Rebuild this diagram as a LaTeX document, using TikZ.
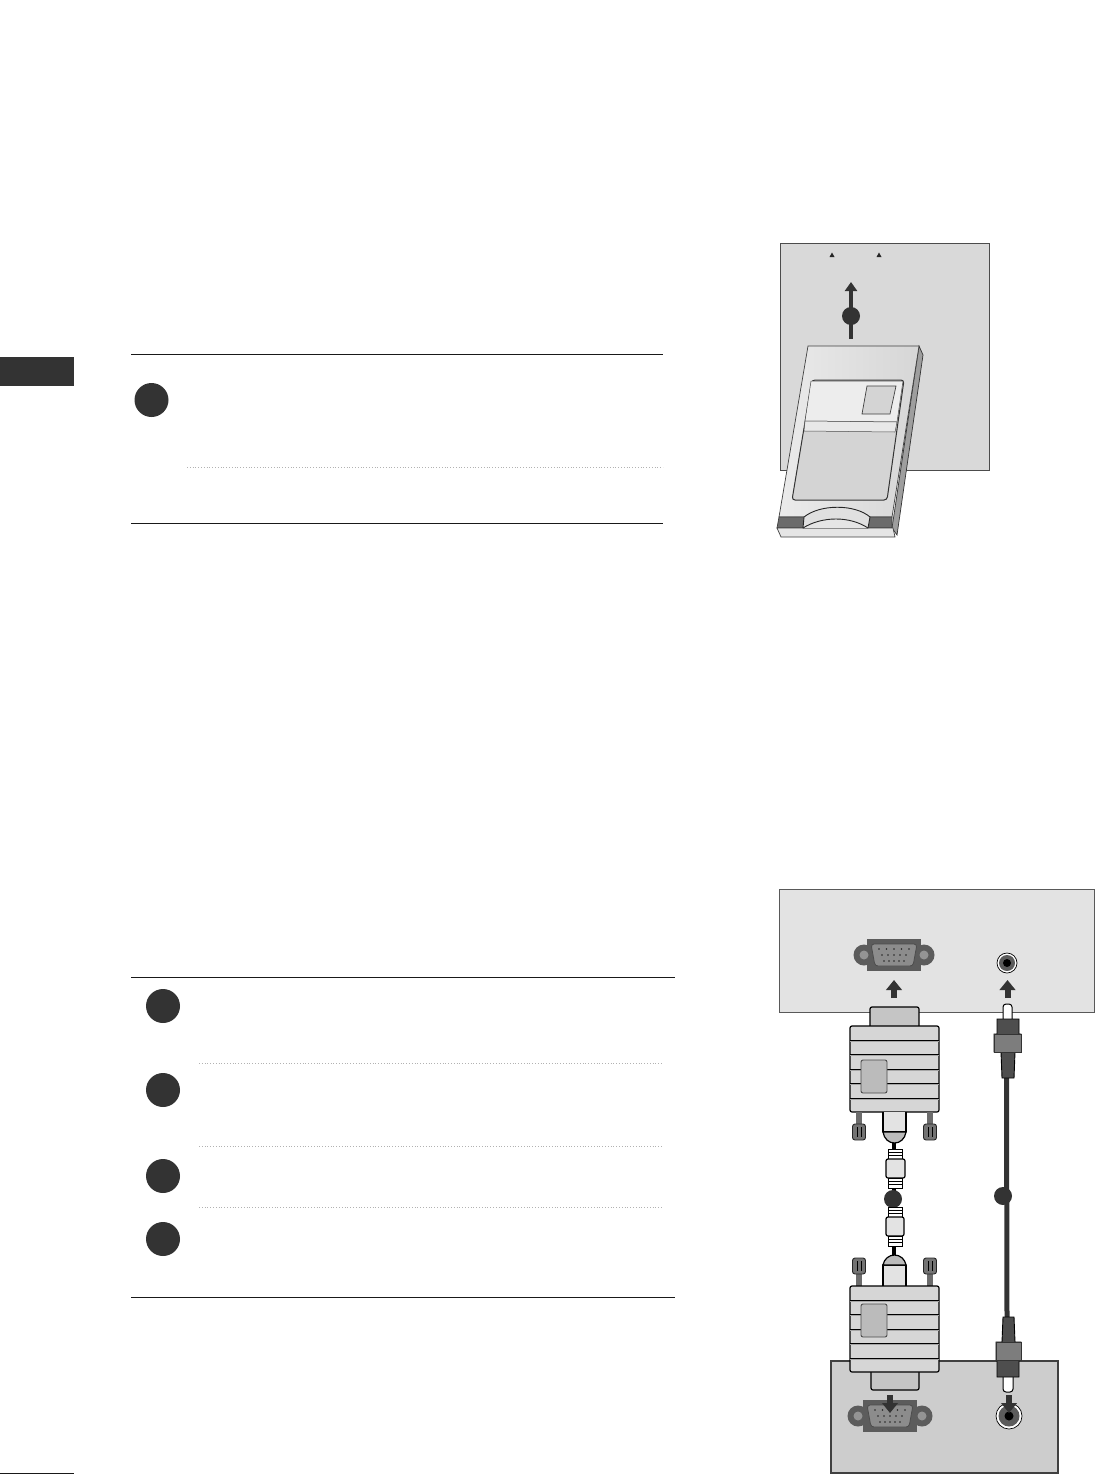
\documentclass[tikz,border=0pt]{standalone}
\usetikzlibrary{arrows.meta}
\definecolor{inkdark}{HTML}{333333}
\definecolor{plugmid}{HTML}{5C5C5C}
\definecolor{platelight}{HTML}{E3E3E3}
\definecolor{platecard}{HTML}{D9D9D9}
\definecolor{platelow}{HTML}{CDCDCD}
\definecolor{bodygray}{HTML}{D6D6D6}
\definecolor{tabgray}{HTML}{BBBBBB}
\tikzset{
  rule/.style={line width=1pt, color=black!90},
  softrule/.style={line width=0.8pt, dotted, color=black!30},
  stepdot/.style={circle, fill=inkdark, inner sep=0pt, minimum size=34pt},
  marker/.style={circle, fill=inkdark, inner sep=0pt, minimum size=18pt},
  bigarrow/.style={line width=6pt, color=inkdark, -{Triangle[width=15.5pt,length=10pt]}},
  cable/.style={line width=5pt, color=inkdark},
  outline/.style={draw=black, line width=1.2pt, line join=round},
  pics/plugbody/.style={code={
    \draw[outline, fill=bodygray, rounded corners=2pt] (0,0) rectangle (89,86);
    \foreach \ly in {14,28,43,57,72} {
      \draw[line width=1pt] (0,\ly) -- (89,\ly);
      \draw[line width=1pt, color=black!35] (0,\ly+1.5) -- (89,\ly+1.5);
    }
    \draw[line width=0.9pt, color=black!70, fill=tabgray, rounded corners=2pt] (11,#1) rectangle (37,#1+33);
  }},
  pics/screw/.style={code={
    \fill[plugmid!90] (-3,#1*12) rectangle (3,0);
    \draw[line width=0.9pt, draw=black!85, fill=black!55, rounded corners=2.5pt] (-6.5,#1*12) rectangle (6.5,#1*28);
    \foreach \sx in {-2,2} \draw[line width=0.7pt] (\sx,#1*15) -- (\sx,#1*25);
  }},
  pics/ribs/.style={code={
    \fill[white] (-7,0) rectangle (7,10);
    \draw[line width=0.9pt] (-7,0) rectangle (7,10);
    \foreach \ry in {3.3,6.6} \draw[line width=0.9pt] (-7,\ry) -- (7,\ry);
  }},
  pics/vgaport/.style={code={
    \fill[plugmid] (-27,-16) rectangle (27,16);
    \fill[plugmid] (-#1,0) circle (10.5);
    \fill[plugmid] (#1,0) circle (10.5);
    \fill[black!42] (-#1,0) circle (4.5);
    \fill[black!42] (#1,0) circle (4.5);
    \draw[line width=0.8pt, draw=black!70, fill=black!45, rounded corners=3pt] (-23,-11) -- (23,-11) -- (19,11) -- (-19,11) -- cycle;
    \foreach \pz/\pa/\pb in {-6/-15/15, 0/-12/12, 6/-10/10}
      \foreach \pk in {0,1,2,3,4}
        \fill[black!85] ({\pa+(\pb-\pa)*\pk/4},\pz) circle (0.8);
  }}
}
\begin{document}
\begin{tikzpicture}[x=1pt,y=-1pt]
\useasboundingbox (0,0) rectangle (1095,1475);
% side tab and foot line
\fill[inkdark] (0,357) rectangle (74,386);
\draw[rule] (0,1473) -- (74,1473);
% upper text block
\draw[rule] (131,354) -- (663,354);
\draw[rule] (131,523) -- (663,523);
\draw[softrule] (187,467) -- (663,467);
\node[stepdot] (stepa) at (151.5,400) {};
% lower text block
\draw[rule] (131,977) -- (675,977);
\draw[rule] (131,1297) -- (675,1297);
\draw[softrule] (199,1063) -- (663,1063);
\draw[softrule] (199,1146) -- (663,1146);
\draw[softrule] (199,1207) -- (663,1207);
\node[stepdot] (stepb) at (163,1006) {};
\node[stepdot] (stepc) at (163,1090) {};
\node[stepdot] (stepd) at (163,1176) {};
\node[stepdot] (stepe) at (163,1239) {};

% card slot
\draw[line width=0.9pt, draw=black!70, fill=platecard] (780,243) rectangle (989,470);
\fill[black!85] (832,252.5) -- (834.5,257) -- (829.5,257) -- cycle;
\fill[black!85] (879,252.5) -- (881.5,257) -- (876.5,257) -- cycle;
\coordinate (cardfrom) at (851,339);
\coordinate (cardto) at (851,282);
\draw[line width=4.5pt, color=inkdark, -{Triangle[width=12pt,length=9pt]}] (cardfrom) -- (cardto);
\node[marker] (cardmark) at (851,316) {};
% card
\draw[line width=0.7pt, draw=black!80, fill=black!38] (919,346) -- (923,355) -- (897,535) -- (892,528) -- cycle;
\draw[line width=0.7pt, draw=black!75, left color=white!92!black, right color=black!16] (808,346) -- (919,346) -- (892,517) -- (779,517) -- cycle;
\draw[line width=0.7pt, draw=black!75, fill=black!58] (779,517) -- (892,517) -- (892,528) -- (777,528) -- cycle;
\draw[line width=0.7pt, draw=black!75, fill=black!10] (777,528) -- (893,528) -- (895,537) -- (781,537) -- cycle;
\draw[line width=0.9pt, draw=black!85, fill=black!12] (804,517) .. controls (820,504) and (855,504) .. (870,517) -- (868,528) -- (803,528) -- cycle;
\draw[line width=0.9pt, draw=black!85, fill=black!10] (803,528) .. controls (822,516) and (850,516) .. (868,528);
\draw[line width=1pt, draw=black!80, fill=black!17, rounded corners=3pt] (812,380) -- (904,380) -- (887,500) -- (792,500) -- cycle;
\draw[line width=0.5pt, draw=black!70, fill=black!7] (811,381) -- (903,381) -- (897,422) -- (805,421) -- cycle;
\draw[line width=0.5pt, draw=black!70, fill=black!9] (805,421) -- (897,422) -- (895,432) -- (804,431) -- cycle;
\draw[line width=0.7pt, draw=black!75, fill=black!17] (867,386) -- (896,386) -- (890,414) -- (862,414) -- cycle;

% upper panel
\draw[line width=0.9pt, draw=black!65, fill=platelight] (779,889) rectangle (1094.5,1012);
\pic (portup) at (894,955) {vgaport=30};
\draw[line width=0.7pt, fill=white] (1007,963) circle (10);
\fill[plugmid] (1007,963) circle (8);
\fill[black] (1007,963) circle (4);
\coordinate (vgaupfrom) at (894,998);
\coordinate (vgaupto) at (894,980);
\coordinate (rcaupfrom) at (1007.5,998);
\coordinate (rcaupto) at (1007.5,980);
\draw[bigarrow] (vgaupfrom) -- (vgaupto);
\draw[bigarrow] (rcaupfrom) -- (rcaupto);

% upper plug
\draw[outline, fill=tabgray!85, rounded corners=2pt] (870,1026) -- (870,1007) -- (919,1007) -- (919,1026);
\pic (bodyup) at (850,1026) {plugbody=34};
\pic (screwa) at (859,1112) {screw=1};
\pic (screwb) at (930,1112) {screw=1};
\draw[outline, fill=platelight] (883,1112) -- (883,1132) -- (906,1132) -- (906,1112);
\draw[outline, fill=tabgray] (883,1132) .. controls (884,1139) and (889,1143) .. (894.5,1143) .. controls (900,1143) and (905,1139) .. (906,1132) -- cycle;
% lower plug
\draw[line width=4pt] (894,1143) -- (894,1149);
\pic (ribsa) at (895,1149) {ribs};
\draw[outline, fill=platelight, rounded corners=2pt] (886,1159) rectangle (905,1178);
\pic (ribsb) at (895,1178) {ribs};
\draw[line width=4pt] (894,1188) -- (894,1207);
\node[marker] (markvga) at (893,1199) {};
\pic (ribsc) at (895,1207) {ribs};
\draw[outline, fill=platelight, rounded corners=2pt] (886,1217) rectangle (904,1236);
\pic (ribsd) at (895,1236) {ribs};
\draw[line width=4pt] (894,1246) -- (894,1256);

% lower panel
\draw[line width=1.4pt, draw=black!75, fill=platelow] (831,1361) rectangle (1058,1473);
\draw[outline, fill=platelight] (883,1286) -- (883,1265) -- (906,1265) -- (906,1286);
\draw[outline, fill=tabgray] (883,1265) .. controls (884,1259) and (889,1255) .. (894.5,1255) .. controls (900,1255) and (905,1259) .. (906,1265) -- cycle;
\pic (screwc) at (859,1286) {screw=-1};
\pic (screwd) at (930,1286) {screw=-1};
\draw[outline, fill=tabgray!85, rounded corners=2pt] (871,1371) -- (871,1390) -- (919,1390) -- (919,1371);
\pic (bodydown) at (850,1286) {plugbody=18};
\pic (portdown) at (890,1416) {vgaport=32};
\draw[line width=0.7pt, fill=white] (1009,1416) circle (13);
\fill[plugmid] (1009,1416) circle (10.5);
\fill[black] (1009,1416) circle (4.5);

% audio lead
\draw[line width=1pt, fill=white, rounded corners=3pt] (1003,1022) -- (1003,1004) -- (1012,1004) -- (1012,1022);
\coordinate (leadtop) at (1006.5,1078);
\coordinate (leadbot) at (1007,1317);
\draw[cable] (leadtop) -- (leadbot);
\draw[line width=0.9pt, fill=plugmid!85!black] (997,1019) -- (1019,1019) -- (1019,1034) -- (1021,1034) -- (1021,1052) -- (1015,1052) -- (1014,1078) -- (1002,1078) -- (1001,1052) -- (994,1052) -- (994,1034) -- (997,1034) -- cycle;
\draw[line width=0.5pt, draw=black!80, fill=plugmid!80!white] (994,1034) rectangle (1021,1052);
\node[marker] (marklead) at (1003,1196) {};
\draw[line width=1pt, fill=white, rounded corners=3pt] (1003,1372) -- (1003,1392) -- (1013,1392) -- (1013,1372);
\draw[line width=0.9pt, fill=plugmid!85!black] (1003,1317) -- (1014,1317) -- (1015,1342) -- (1021,1342) -- (1021,1360) -- (1019,1360) -- (1019,1377) -- (997,1377) -- (997,1360) -- (996,1360) -- (996,1342) -- (1002,1342) -- cycle;
\draw[line width=0.5pt, draw=black!80, fill=plugmid!80!white] (996,1342) rectangle (1021,1360);

\coordinate (vgadownfrom) at (890,1395);
\coordinate (vgadownto) at (890,1413);
\coordinate (rcadownfrom) at (1009,1395);
\coordinate (rcadownto) at (1009,1413);
\draw[bigarrow] (vgadownfrom) -- (vgadownto);
\draw[bigarrow] (rcadownfrom) -- (rcadownto);
\end{tikzpicture}
\end{document}
